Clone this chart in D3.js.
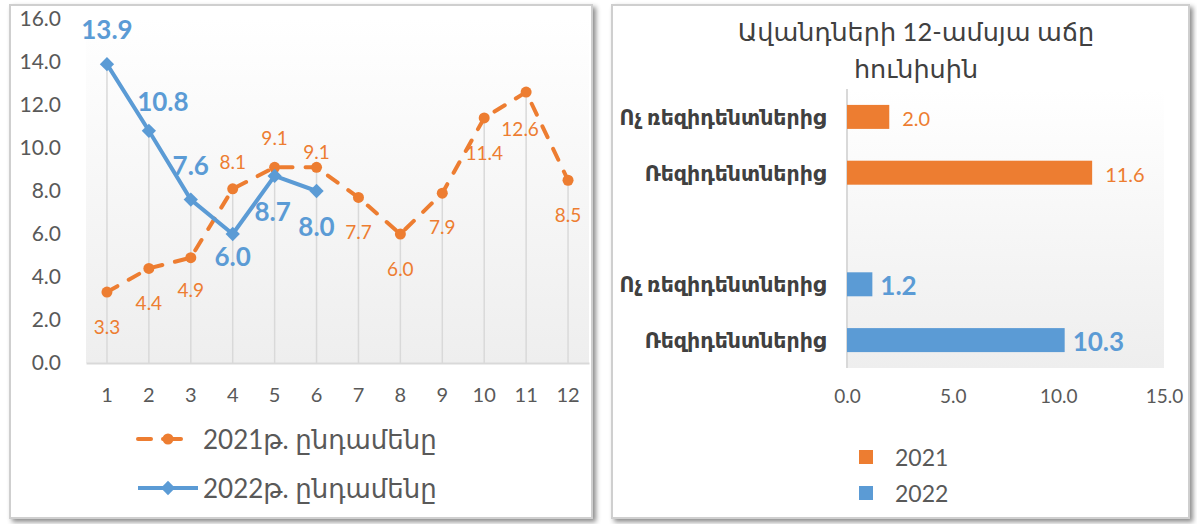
<!DOCTYPE html>
<html>
<head>
<meta charset="utf-8">
<script src="https://cdn.jsdelivr.net/npm/d3@7"></script>
<style>
  body { margin: 0; background: #fff; }
  svg { display: block; }
  text { font-family: Lato, "DejaVu Sans", sans-serif; }
</style>
</head>
<body>
<svg id="board" width="1197" height="524"></svg>
<script>
// left chart: monthly growth, 2021 vs 2022
var months = [1, 2, 3, 4, 5, 6, 7, 8, 9, 10, 11, 12];
var values2021 = [3.3, 4.4, 4.9, 8.1, 9.1, 9.1, 7.7, 6.0, 7.9, 11.4, 12.6, 8.5];
var values2022 = [13.9, 10.8, 7.6, 6.0, 8.7, 8.0];
var yTicks = [0, 2, 4, 6, 8, 10, 12, 14, 16];
var legendLeft = ['2021թ. ընդամենը', '2022թ. ընդամենը'];

// right chart: deposits growth in June
var barTitle = ['Ավանդների 12-ամսյա աճը', 'հունիսին'];
var barSlots = ['a', 'b', 'gap', 'c', 'd'];
var barLabels = ['Ոչ ռեզիդենտներից', 'Ռեզիդենտներից', '', 'Ոչ ռեզիդենտներից', 'Ռեզիդենտներից'];
var barYears = ['2021', '2021', null, '2022', '2022'];
var barValues = [2.0, 11.6, null, 1.2, 10.3];
var xTicks = [0, 5, 10, 15];
var legendRight = ['2021', '2022'];

var ORANGE = '#ED7D31';
var BLUE = '#5B9BD5';
var GREY_TEXT = '#595959';

// label nudges (label centre relative to point)
var offsets2021 = [[0, 34], [0, 34], [0, 32], [0, -27], [0, -30], [0, -16],
  [0, 34], [0, 34], [0, 33], [0, 35], [-6, 36], [0, 34]];
var offsets2022 = [[0, -35], [14, -30], [0, -35], [0, 22], [-2, 35], [0, 35]];

var svg = d3.select('#board');
var defs = svg.append('defs');

var shadow = defs.append('filter').attr('id', 'shadow')
  .attr('x', '-5%').attr('y', '-5%').attr('width', '110%').attr('height', '110%');
shadow.append('feDropShadow')
  .attr('dx', 3).attr('dy', 3).attr('stdDeviation', 2.5)
  .attr('flood-color', '#000').attr('flood-opacity', 0.45);

var grad = defs.append('linearGradient').attr('id', 'plotbg')
  .attr('x1', 0).attr('y1', 0).attr('x2', 0).attr('y2', 1);
grad.append('stop').attr('offset', '0%').attr('stop-color', '#ffffff');
grad.append('stop').attr('offset', '100%').attr('stop-color', '#eeeeee');

drawPanel(10, 5, 582, 513);
drawPanel(612, 5, 577, 513);
drawLineChart();
drawBarChart();

function drawPanel(x, y, w, h) {
  svg.append('rect')
    .attr('x', x).attr('y', y).attr('width', w).attr('height', h)
    .attr('fill', '#fff')
    .attr('stroke', '#cfcfcf')
    .attr('stroke-width', 2)
    .attr('filter', 'url(#shadow)');
}

function drawLineChart() {
  var x = d3.scaleBand().domain(months).range([86, 589]);
  var cx = function (d) { return x(d) + x.bandwidth() / 2; };
  var y = d3.scaleLinear().domain([0, 16]).range([363, 19]);
  var g = svg.append('g');

  g.append('rect')
    .attr('x', 86).attr('y', y(16)).attr('width', 503).attr('height', y(0) - y(16))
    .attr('fill', 'url(#plotbg)');

  // drop lines from the highest point of each month
  var dropLines = months.map(function (m, i) {
    var v = values2021[i];
    if (i < values2022.length) v = Math.max(v, values2022[i]);
    return {m: m, v: v};
  });
  g.selectAll('.drop-line').data(dropLines).enter().append('line')
    .classed('drop-line', true)
    .attr('x1', function (d) { return cx(d.m); })
    .attr('x2', function (d) { return cx(d.m); })
    .attr('y1', function (d) { return y(d.v); })
    .attr('y2', y(0))
    .attr('stroke', '#d9d9d9').attr('stroke-width', 1.5);

  var yAxis = g.append('g').attr('transform', 'translate(86,0)')
    .call(d3.axisLeft(y).tickValues(yTicks).tickSize(0).tickPadding(25).tickFormat(d3.format('.1f')));
  yAxis.select('.domain').remove();
  yAxis.selectAll('text').attr('font-size', 21).attr('fill', GREY_TEXT)
    .style('font-family', 'Lato, sans-serif');

  var xAxis = g.append('g').attr('transform', 'translate(0,' + y(0) + ')')
    .call(d3.axisBottom(x).tickSize(0).tickPadding(25));
  xAxis.select('.domain').attr('stroke', '#d9d9d9').attr('stroke-width', 2);
  xAxis.selectAll('text').attr('font-size', 20).attr('fill', GREY_TEXT)
    .style('font-family', 'Lato, sans-serif');

  var line = d3.line()
    .x(function (d, i) { return cx(months[i]); })
    .y(function (d) { return y(d); });

  g.append('path').datum(values2021)
    .attr('d', line)
    .attr('fill', 'none').attr('stroke', ORANGE).attr('stroke-width', 4)
    .attr('stroke-dasharray', '12,13').attr('stroke-linecap', 'round');
  g.selectAll('.dot21').data(values2021).enter().append('circle')
    .classed('dot21', true)
    .attr('cx', function (d, i) { return cx(months[i]); })
    .attr('cy', y)
    .attr('r', 5.5).attr('fill', ORANGE);

  g.append('path').datum(values2022)
    .attr('d', line)
    .attr('fill', 'none').attr('stroke', BLUE).attr('stroke-width', 4)
    .attr('stroke-linejoin', 'round');
  g.selectAll('.dia22').data(values2022).enter().append('path')
    .classed('dia22', true)
    .attr('transform', function (d, i) { return 'translate(' + cx(months[i]) + ',' + y(d) + ')'; })
    .attr('d', d3.symbol().type(d3.symbolDiamond2).size(130))
    .attr('fill', BLUE);

  g.selectAll('.lab21').data(values2021).enter().append('text')
    .classed('lab21', true)
    .attr('x', function (d, i) { return cx(months[i]) + offsets2021[i][0]; })
    .attr('y', function (d, i) { return y(d) + offsets2021[i][1]; })
    .attr('text-anchor', 'middle').attr('dominant-baseline', 'central')
    .attr('font-size', 19).attr('fill', ORANGE)
    .text(d3.format('.1f'));

  g.selectAll('.lab22').data(values2022).enter().append('text')
    .classed('lab22', true)
    .attr('x', function (d, i) { return cx(months[i]) + offsets2022[i][0]; })
    .attr('y', function (d, i) { return y(d) + offsets2022[i][1]; })
    .attr('text-anchor', 'middle').attr('dominant-baseline', 'central')
    .attr('font-size', 26).attr('font-weight', 'bold').attr('fill', BLUE)
    .text(d3.format('.1f'));

  // legend
  var leg = g.append('g');
  var l1 = leg.append('g').attr('transform', 'translate(0,439)');
  l1.append('line').attr('x1', 138).attr('x2', 151).attr('stroke', ORANGE)
    .attr('stroke-width', 4).attr('stroke-linecap', 'round');
  l1.append('line').attr('x1', 163).attr('x2', 181).attr('stroke', ORANGE)
    .attr('stroke-width', 4).attr('stroke-linecap', 'round');
  l1.append('circle').attr('cx', 168).attr('r', 5.5).attr('fill', ORANGE);
  l1.append('text').attr('x', 203).attr('dominant-baseline', 'central')
    .attr('font-size', 26).attr('fill', GREY_TEXT).text(legendLeft[0]);

  var l2 = leg.append('g').attr('transform', 'translate(0,488)');
  l2.append('line').attr('x1', 138).attr('x2', 198).attr('stroke', BLUE).attr('stroke-width', 4);
  l2.append('path').attr('transform', 'translate(168,0)')
    .attr('d', d3.symbol().type(d3.symbolDiamond2).size(130)).attr('fill', BLUE);
  l2.append('text').attr('x', 203).attr('dominant-baseline', 'central')
    .attr('font-size', 26).attr('fill', GREY_TEXT).text(legendLeft[1]);
}

function drawBarChart() {
  var x = d3.scaleLinear().domain([0, 15]).range([847, 1164]);
  var y = d3.scaleBand().domain(barSlots).range([89, 368]).paddingInner(0.57).paddingOuter(0.285);
  var colour = d3.scaleOrdinal().domain(legendRight).range([ORANGE, BLUE]);
  var g = svg.append('g');

  g.selectAll('.title-line').data(barTitle).enter().append('text')
    .classed('title-line', true)
    .attr('x', 916).attr('y', function (d, i) { return 31 + i * 37; })
    .attr('text-anchor', 'middle').attr('dominant-baseline', 'central')
    .attr('font-size', 25.5).attr('fill', '#404040')
    .text(function (d) { return d; });

  g.append('rect')
    .attr('x', x(0)).attr('y', 89).attr('width', x(15) - x(0)).attr('height', 279)
    .attr('fill', 'url(#plotbg)');

  var xAxis = g.append('g').attr('transform', 'translate(0,368)')
    .call(d3.axisBottom(x).tickValues(xTicks).tickSize(0).tickPadding(22).tickFormat(d3.format('.1f')));
  xAxis.select('.domain').remove();
  xAxis.selectAll('text').attr('font-size', 19).attr('fill', GREY_TEXT)
    .style('font-family', 'Lato, sans-serif');

  g.append('line')
    .attr('x1', x(0)).attr('x2', x(0)).attr('y1', 89).attr('y2', 368)
    .attr('stroke', '#d9d9d9').attr('stroke-width', 2);

  var rows = barSlots.map(function (s, i) {
    return {slot: s, label: barLabels[i], year: barYears[i], value: barValues[i]};
  }).filter(function (d) { return d.value !== null; });

  g.selectAll('.cat-label').data(rows).enter().append('text')
    .classed('cat-label', true)
    .attr('x', 826)
    .attr('y', function (d) { return y(d.slot) + y.bandwidth() / 2; })
    .attr('text-anchor', 'end').attr('dominant-baseline', 'central')
    .attr('font-size', 20.5).attr('font-weight', 'bold').attr('fill', '#404040')
    .text(function (d) { return d.label; });

  g.selectAll('.bar').data(rows).enter().append('rect')
    .classed('bar', true)
    .attr('x', x(0))
    .attr('y', function (d) { return y(d.slot); })
    .attr('width', function (d) { return x(d.value) - x(0); })
    .attr('height', y.bandwidth())
    .attr('fill', function (d) { return colour(d.year); });

  g.selectAll('.bar-value').data(rows).enter().append('text')
    .classed('bar-value', true)
    .attr('x', function (d) { return x(d.value) + (d.year === '2021' ? 13 : 8); })
    .attr('y', function (d) { return y(d.slot) + y.bandwidth() / 2 + 1; })
    .attr('dominant-baseline', 'central')
    .attr('font-size', function (d) { return d.year === '2021' ? 20 : 26; })
    .attr('font-weight', function (d) { return d.year === '2021' ? 'normal' : 'bold'; })
    .attr('fill', function (d) { return colour(d.year); })
    .text(function (d) { return d3.format('.1f')(d.value); });

  var leg = g.selectAll('.leg-item').data(legendRight).enter().append('g')
    .classed('leg-item', true)
    .attr('transform', function (d, i) { return 'translate(859,' + (457 + i * 36) + ')'; });
  leg.append('rect').attr('x', 0).attr('y', -7).attr('width', 14).attr('height', 14)
    .attr('fill', colour);
  leg.append('text').attr('x', 36).attr('dominant-baseline', 'central')
    .attr('font-size', 23).attr('fill', GREY_TEXT)
    .text(function (d) { return d; });
}
</script>
</body>
</html>
